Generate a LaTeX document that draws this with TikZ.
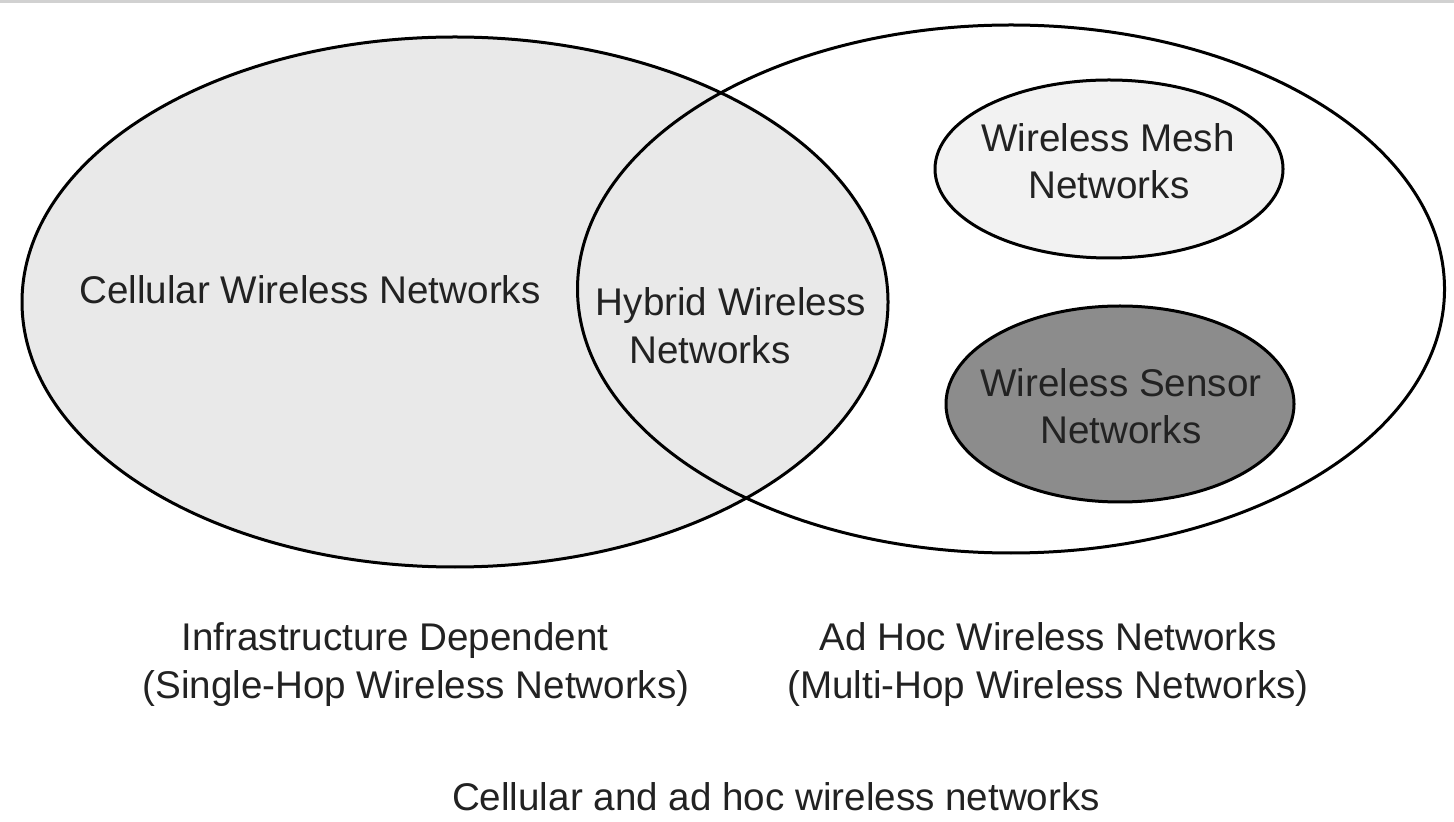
\documentclass[tikz,border=0pt]{standalone}
\usepackage{fontspec}
\setmainfont{Liberation Sans}
\usetikzlibrary{shapes.geometric}
\definecolor{cellfill}{HTML}{E9E9E9}
\definecolor{meshfill}{HTML}{F2F2F2}
\definecolor{sensorfill}{HTML}{8C8C8C}
\definecolor{inktext}{HTML}{222222}
\tikzset{
  region/.style={draw=black, line width=1.5pt, ellipse, inner sep=0pt, outer sep=0pt},
  lbl/.style={anchor=base, inner sep=0pt, text=inktext, font=\fontsize{19.3pt}{24pt}\selectfont},
}
\begin{document}
\begin{tikzpicture}[x=0.5pt, y=-0.5pt]
  % page frame
  \useasboundingbox (0,0) rectangle (1454,822);
  \fill[white] (0,0) rectangle (1454,822);
  \fill[black!18] (0,0) rectangle (1454,3);

  % the two overlapping domains
  \node[region, fill=cellfill, minimum width=433pt, minimum height=265pt] (infra) at (455,302) {};
  \node[region, minimum width=433.5pt, minimum height=264pt] (adhoc) at (1011,289) {};

  % sub-classes of ad hoc networks
  \node[region, fill=meshfill, minimum width=174pt, minimum height=89pt] (mesh) at (1109,169) {};
  \node[region, fill=sensorfill, minimum width=174pt, minimum height=98pt] (sensor) at (1120,404) {};

  % labels inside the diagram
  \node[lbl] (cell) at (310,304) {Cellular Wireless Networks};
  \node[lbl] (hyb1) at (731,316) {Hybrid Wireless};
  \node[lbl] (hyb2) at (710,364) {Networks};
  \node[lbl] (mesh1) at (1108,152) {Wireless Mesh};
  \node[lbl] (mesh2) at (1109,199) {Networks};
  \node[lbl] (sens1) at (1121,397) {Wireless Sensor};
  \node[lbl] (sens2) at (1121,444) {Networks};

  % labels below the domains
  \node[lbl] (inf1) at (395,650) {Infrastructure Dependent};
  \node[lbl] (inf2) at (416,698) {(Single-Hop Wireless Networks)};
  \node[lbl] (ah1) at (1048,650) {Ad Hoc Wireless Networks};
  \node[lbl] (ah2) at (1048,698) {(Multi-Hop Wireless Networks)};

  % caption
  \node[lbl] (caption) at (776,810) {Cellular and ad hoc wireless networks};
\end{tikzpicture}
\end{document}
